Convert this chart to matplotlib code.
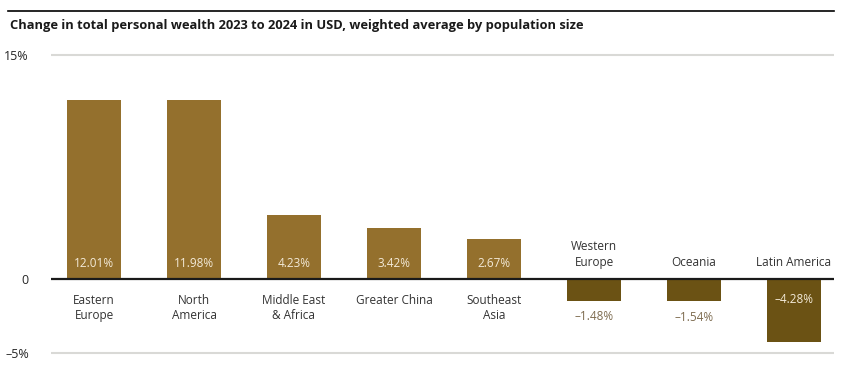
import numpy as np
import matplotlib.pyplot as plt
from matplotlib.lines import Line2D

plt.rcParams['font.family'] = ['Open Sans', 'DejaVu Sans']

regions = ['Eastern\nEurope', 'North\nAmerica', 'Middle East\n& Africa', 'Greater China',
           'Southeast\nAsia', 'Western\nEurope', 'Oceania', 'Latin America']
change = [12.01, 11.98, 4.23, 3.42, 2.67, -1.48, -1.54, -4.28]
value_labels = ['12.01%', '11.98%', '4.23%', '3.42%', '2.67%', '\u20131.48%', '\u20131.54%', '\u20134.28%']

pos_color = '#94702d'
neg_color = '#6b5214'

fig = plt.figure(figsize=(8.58, 3.73), dpi=100)
ax = fig.add_axes([51 / 858, 0.0335, (834 - 51) / 858, 0.8727 - 0.0335])

x = np.arange(len(regions))
colors = [pos_color if v >= 0 else neg_color for v in change]
ax.bar(x, change, width=0.54, color=colors, zorder=2)

ax.set_xlim(-0.43, 7.4)
ax.set_ylim(-5.5, 15.5)

ax.axhline(15, color='#d9d9d6', lw=1.5, zorder=1)
ax.axhline(-5, color='#d9d9d6', lw=1.5, zorder=1)
ax.axhline(0, color='#1a1a1a', lw=1.6, zorder=3)

for s in ax.spines.values():
    s.set_visible(False)
ax.set_xticks([])
ax.set_yticks([15, 0, -5])
ax.set_yticklabels(['15%', '0', '\u20135%'], fontsize=9, color='#262626')
ax.tick_params(axis='y', length=0, pad=16)

fs = 8.5
for i, (v, lab, reg) in enumerate(zip(change, value_labels, regions)):
    if v >= 0:
        ax.text(i, 1.0, lab, ha='center', va='center', fontsize=fs, color='#f3ead8', zorder=4)
        ax.annotate(reg, (i, 0), xytext=(0, -11), textcoords='offset points',
                    ha='center', va='top', fontsize=fs, color='#333333', linespacing=1.25)
    else:
        ax.annotate(reg, (i, 0), xytext=(0, 7), textcoords='offset points',
                    ha='center', va='bottom', fontsize=fs, color='#333333', linespacing=1.25)
        if v > -3:
            ax.annotate(lab, (i, v), xytext=(0, -7), textcoords='offset points',
                        ha='center', va='top', fontsize=fs, color='#7d6b4f')
        else:
            ax.annotate(lab, (i, 0), xytext=(0, -15), textcoords='offset points',
                        ha='center', va='center', fontsize=fs, color='#f3ead8', zorder=4)

fig.text(10 / 858, 1 - 26 / 373, 'Change in total personal wealth 2023 to 2024 in USD, weighted average by population size',
         ha='left', va='center', fontsize=9.3, fontweight='bold', color='#1a1a1a')
fig.add_artist(Line2D([8 / 858, 834 / 858], [1 - 11 / 373, 1 - 11 / 373], color='black', lw=1.2))

fig.savefig('out.png', dpi=100)
